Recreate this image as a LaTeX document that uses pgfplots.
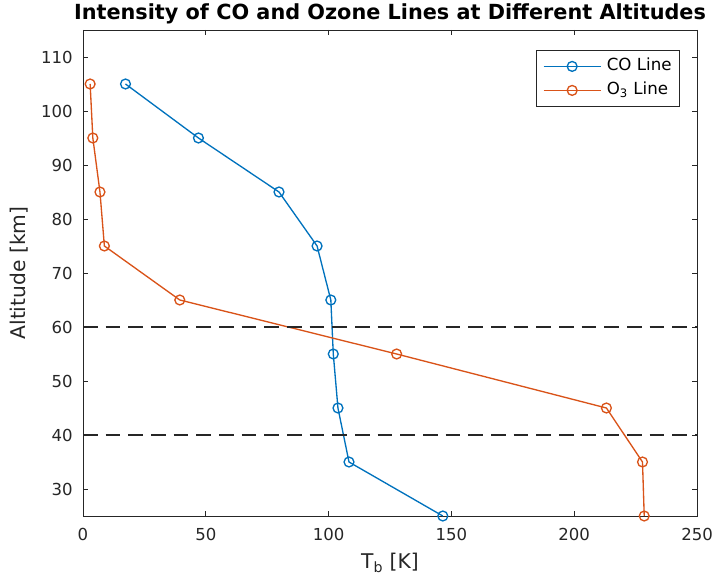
\documentclass[border=0pt]{standalone}
\usepackage{pgfplots}
\pgfplotsset{compat=1.18}
\usepackage{fontspec}
\setmainfont{DejaVu Sans}
\definecolor{mblue}{rgb}{0,0.447,0.741}
\definecolor{morange}{rgb}{0.85,0.325,0.098}
\definecolor{axgray}{rgb}{0.15,0.15,0.15}
\begin{document}
\begin{tikzpicture}
\begin{axis}[
  scale only axis,
  width=460.5pt, height=364.5pt,
  xmin=0, xmax=250, ymin=25, ymax=115,
  xtick={0,50,...,250}, ytick={30,40,...,110},
  tick align=inside,
  major tick length=4pt,
  clip=false,
  axis line style={axgray, line width=0.6pt},
  tick style={axgray, line width=0.6pt},
  every tick label/.append style={font=\fontsize{12.4}{14}\selectfont, text=axgray, inner sep=0pt},
  xticklabel style={anchor=north, yshift=-9pt},
  yticklabel style={anchor=east, xshift=-7.5pt},
  /pgf/number format/assume math mode=true,
  xlabel={T\textsubscript{b} [K]},
  ylabel={Altitude [km]},
  xlabel style={at={(axis description cs:0.5,0)}, anchor=north, yshift=-27.5pt, inner sep=0pt,
    font=\fontsize{15.2}{17}\selectfont, text=axgray},
  ylabel style={at={(axis description cs:0,0.5)}, anchor=base, yshift=43.5pt, inner sep=0pt,
    font=\fontsize{15.2}{17}\selectfont, text=axgray},
  title={Intensity of CO and Ozone Lines at Different Altitudes},
  title style={at={(axis description cs:0.5,1)}, anchor=base, yshift=1.5pt, inner sep=0pt,
    font=\bfseries\fontsize{15.6}{18}\selectfont},
  legend style={at={(0.9723,0.9588)}, anchor=north east, draw=axgray, line width=0.6pt,
    font=\fontsize{12.5}{14}\selectfont, inner xsep=5pt, inner ysep=5pt, row sep=4pt, column sep=3pt,
    nodes={inner sep=1pt, text height=9pt, text depth=3pt}},
  legend cell align=left,
  legend image code/.code={
    \draw[#1, mark=none] (0pt,0pt) -- (43pt,0pt);
    \draw[#1, only marks] plot coordinates {(21.5pt,0pt)};
  },
]
\path (rel axis cs:-0.1352,-0.1358) rectangle (rel axis cs:1.0309,1.0617);
\addplot [mblue, line width=1pt, mark=o, mark size=3.7pt, mark options={solid}]
  coordinates {(17.3,105) (47,95) (79.8,85) (95.3,75) (100.9,65) (101.9,55) (103.8,45) (108.3,35) (146.5,25)};
\addlegendentry{CO Line}
\addplot [morange, line width=1pt, mark=o, mark size=3.7pt, mark options={solid}]
  coordinates {(2.9,105) (4,95) (6.9,85) (8.7,75) (39.4,65) (127.7,55) (213.1,45) (227.8,35) (228.5,25)};
\addlegendentry{O\textsubscript{3} Line}
\addplot [axgray, line width=1pt, dash pattern=on 11pt off 6pt, forget plot] coordinates {(0,60) (250,60)};
\addplot [axgray, line width=1pt, dash pattern=on 11pt off 6pt, forget plot] coordinates {(0,40) (250,40)};
\end{axis}
\end{tikzpicture}
\end{document}
